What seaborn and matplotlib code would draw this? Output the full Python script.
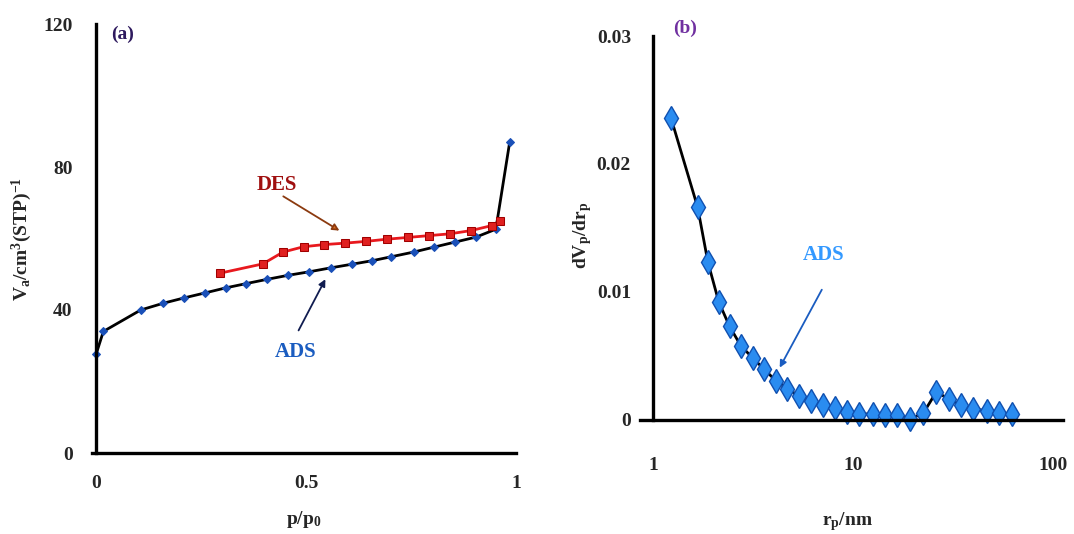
import matplotlib
matplotlib.use("Agg")
import matplotlib.pyplot as plt
import seaborn as sb
import pandas as pd

# (a) isotherm: adsorption branch
adsP = [0.0, 0.017, 0.106, 0.16, 0.21, 0.26, 0.309, 0.358, 0.408, 0.457, 0.508,
        0.559, 0.609, 0.658, 0.703, 0.756, 0.805, 0.855, 0.905, 0.952, 0.985]
adsV = [27.7, 34.0, 40.0, 41.9, 43.4, 44.8, 46.2, 47.4, 48.6, 49.7, 50.7,
        51.8, 52.8, 53.8, 54.9, 56.2, 57.6, 59.0, 60.4, 62.6, 87.0]
# (a) desorption branch
desP = [0.295, 0.397, 0.445, 0.494, 0.543, 0.593, 0.643, 0.692, 0.743, 0.792,
        0.842, 0.892, 0.942, 0.963]
desV = [50.3, 52.9, 56.2, 57.7, 58.3, 58.7, 59.2, 59.8, 60.3, 60.8, 61.3,
        62.2, 63.6, 65.0]
# (b) pore size distribution
rp = [1.23, 1.67, 1.88, 2.13, 2.41, 2.75, 3.14, 3.59, 4.11, 4.68, 5.37, 6.14,
      7.08, 8.13, 9.33, 10.75, 12.5, 14.4, 16.5, 19.3, 22.4, 26.1, 30.1, 34.7,
      39.7, 46.8, 53.9, 62.1]
dVdr = [0.02357, 0.01662, 0.01232, 0.00922, 0.00732, 0.00578, 0.00487, 0.00396,
        0.00307, 0.00242, 0.0019, 0.00148, 0.00115, 0.00091, 0.00065, 0.00047,
        0.00047, 0.0004, 0.0004, 0.0001, 0.00052, 0.00221, 0.00162, 0.00117,
        0.00086, 0.00073, 0.00052, 0.00047]

yTicksA = [0, 40, 80, 120]
xTicksA = [0, 0.5, 1]
xTickLabelsA = ["0", "0.5", "1"]
yTicksB = [0, 0.01, 0.02, 0.03]
yTickLabelsB = ["0", "0.01", "0.02", "0.03"]
xTicksB = [1, 10, 100]
xTickLabelsB = ["1", "10", "100"]

sb.set_style("white")
plt.rcParams['font.family'] = ['Liberation Serif', 'DejaVu Serif']
plt.rcParams['font.weight'] = 'bold'
plt.rcParams['mathtext.fontset'] = 'custom'
plt.rcParams['mathtext.rm'] = 'Liberation Serif:bold'
plt.rcParams['mathtext.bf'] = 'Liberation Serif:bold'
plt.rcParams['mathtext.it'] = 'Liberation Serif:bold'

df_ads = pd.DataFrame({"p": adsP, "V": adsV})
df_des = pd.DataFrame({"p": desP, "V": desV})
df_psd = pd.DataFrame({"r": rp, "d": dVdr})

fig = plt.figure(figsize=(10.74, 5.34), dpi=100)

# ---------- (a) ----------
ax1 = fig.add_axes([96/1074 - 4/1074, 81/534, 424/1074, 429/534])
sb.lineplot(data=df_ads, x="p", y="V", ax=ax1, sort=False, color="black", lw=2,
            marker="D", markersize=4.5, markerfacecolor="#1a50b8",
            markeredgecolor="#1a50b8", clip_on=False)
sb.lineplot(data=df_des, x="p", y="V", ax=ax1, sort=False, color="#e8191e", lw=2,
            marker="s", markersize=5.5, markerfacecolor="#e02020",
            markeredgecolor="#a00000", clip_on=False)
ax1.set_xlim(-0.01, 1.0)
ax1.set_ylim(0, 120)
ax1.spines['left'].set_position(('data', 0))
ax1.spines['top'].set_visible(False)
ax1.spines['right'].set_visible(False)
for s in ['left', 'bottom']:
    ax1.spines[s].set_linewidth(2.4)
    ax1.spines[s].set_color("black")
ax1.set_yticks(yTicksA)
ax1.set_xticks(xTicksA)
ax1.set_xticklabels(xTickLabelsA)
ax1.tick_params(axis='y', length=2, width=1, color="#666666", pad=15, labelsize=14)
ax1.tick_params(axis='x', length=3, width=1, color="#666666", pad=13, labelsize=14)
ax1.set_xlabel("p/p$_0$", fontsize=14, fontweight='bold')
ax1.xaxis.set_label_coords(0.5, -0.13)
ax1.set_ylabel("V$_a$/cm$^3$(STP)$^{-1}$", fontsize=14, fontweight='bold')
ax1.yaxis.set_label_coords(-0.137, 0.5)
ax1.text(0.063, 117, "(a)", color="#2e1a5e", fontsize=14, ha="center", va="center")
ax1.text(0.431, 75, "DES", color="#a01010", fontsize=15, ha="center", va="center")
ax1.annotate("", xy=(0.585, 61.8), xytext=(0.44, 72.2),
             arrowprops=dict(arrowstyle="-|>", color="#8b3a0f", lw=1.3,
                             mutation_scale=10, fc="#e07020"))
ax1.text(0.476, 28.3, "ADS", color="#1a5cc0", fontsize=15, ha="center", va="center")
ax1.annotate("", xy=(0.549, 49.3), xytext=(0.479, 33.6),
             arrowprops=dict(arrowstyle="-|>", color="#101c50", lw=1.3,
                             mutation_scale=10))

# ---------- (b) ----------
ax2 = fig.add_axes([640/1074, 114/534, 423/1074, 384/534])
sb.lineplot(data=df_psd, x="r", y="d", ax=ax2, sort=False, color="black", lw=2,
            marker="d", markersize=12, markerfacecolor="#2a8cf0",
            markeredgecolor="#1050b0", markeredgewidth=1, clip_on=False)
ax2.set_xscale("log")
ax2.set_xlim(0.86, 112)
ax2.set_ylim(0, 0.03)
ax2.spines['left'].set_position(('data', 1))
ax2.spines['top'].set_visible(False)
ax2.spines['right'].set_visible(False)
for s in ['left', 'bottom']:
    ax2.spines[s].set_linewidth(2.4)
    ax2.spines[s].set_color("black")
ax2.set_xticks(xTicksB)
ax2.set_xticklabels(xTickLabelsB)
ax2.minorticks_off()
ax2.set_yticks(yTicksB)
ax2.set_yticklabels(yTickLabelsB)
ax2.tick_params(axis='x', length=9, width=1.6, color="black", direction="out",
                pad=18, labelsize=14)
ax2.tick_params(axis='y', length=4, width=1.6, color="black", direction="out",
                pad=12, labelsize=14)
ax2.set_xlabel("r$_p$/nm", fontsize=14, fontweight='bold')
ax2.xaxis.set_label_coords(0.49, -0.235)
ax2.set_ylabel("dV$_p$/dr$_p$", fontsize=14, fontweight='bold')
ax2.yaxis.set_label_coords(-0.109, 0.48)
ax2.text(1.445, 0.0306, "(b)", color="#7030a0", fontsize=14, ha="center", va="center")
ax2.text(7.1, 0.0129, "ADS", color="#3399ff", fontsize=15, ha="center", va="center")
ax2.annotate("", xy=(4.23, 0.0039), xytext=(7.08, 0.01037),
             arrowprops=dict(arrowstyle="-|>", color="#1a5cc0", lw=1.3,
                             mutation_scale=10))

plt.savefig("out.png", dpi=100)
